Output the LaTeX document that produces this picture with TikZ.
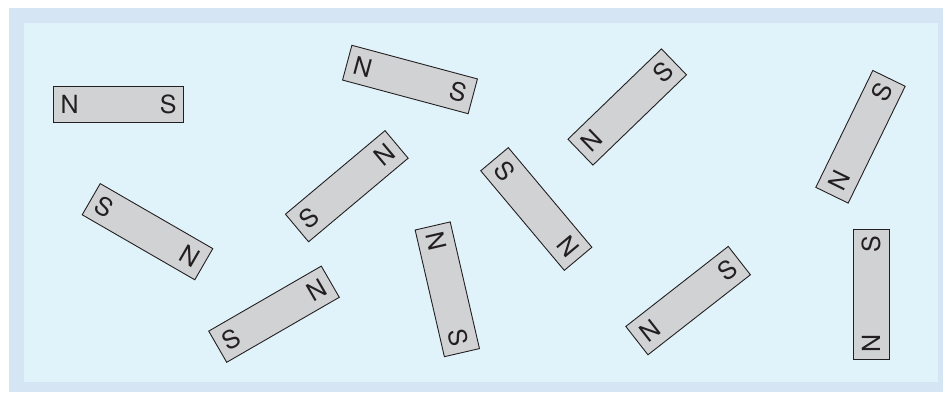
\documentclass[tikz,border=0pt]{standalone}
\usepackage{fontspec}
\newfontfamily\polefont{TeX Gyre Heros}
\usepackage{xcolor}
\definecolor{cFrame}{HTML}{D5E5F4}
\definecolor{cField}{HTML}{E0F3FB}
\definecolor{cBar}{HTML}{D1D2D4}
\definecolor{cInk}{HTML}{231F20}
\usepackage{tikz}
\tikzset{
  magnet/.style={draw=cInk,line width=0.9pt,fill=cBar,
    minimum width=130pt,minimum height=36pt,inner xsep=7pt,inner ysep=0pt,
    text width=116pt,text=cInk,font=\polefont\fontsize{25}{25}\selectfont},
}

\begin{document}
\begin{tikzpicture}[x=1pt,y=1pt]
  \useasboundingbox (0,0) rectangle (943,392);
  \fill[cFrame] (9,0) rectangle (943,384);
  \fill[cField] (24,10) rectangle (938,369);
  \node[magnet]            (bar-a) at (118.5,288)   {N\hfill S};
  \node[magnet,rotate=-15] (bar-b) at (410,312.5)   {N\hfill S};
  \node[magnet,rotate=-30] (bar-c) at (147.5,160.3) {S\hfill N};
  \node[magnet,rotate=30]  (bar-d) at (274,77.8)    {S\hfill N};
  \node[magnet,rotate=40]  (bar-e) at (346.8,205.8) {S\hfill N};
  \node[magnet,rotate=44]  (bar-f) at (627.2,285)   {N\hfill S};
  \node[magnet,rotate=64]  (bar-g) at (860.5,255.2) {N\hfill S};
  \node[magnet,rotate=-50] (bar-h) at (536.3,183)   {S\hfill N};
  \node[magnet,rotate=-77] (bar-i) at (447.3,102.7) {N\hfill S};
  \node[magnet,rotate=38]  (bar-j) at (688.1,91.4)  {N\hfill S};
  \node[magnet,rotate=90]  (bar-k) at (871,98)      {N\hfill S};
\end{tikzpicture}
\end{document}
